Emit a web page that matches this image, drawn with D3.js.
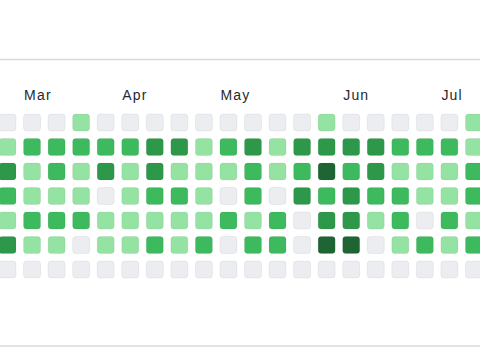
<!DOCTYPE html>
<html>
<head>
<meta charset="utf-8">
<script src="https://cdn.jsdelivr.net/npm/d3@7"></script>
<style>
  html, body { margin: 0; padding: 0; background: #ffffff; overflow: hidden; }
  svg { display: block; }
</style>
</head>
<body>
<svg id="chart" width="480" height="360"></svg>
<script>
// Week columns (index 0 is the partially visible week at the left edge)
const weeks = d3.range(20);
// Month labels and the week column where each starts
const monthLabels = ["Mar", "Apr", "May", "Jun", "Jul"];
const monthWeeks  = [1, 5, 9, 14, 18];
// Weekday rows
const days = ["Sun", "Mon", "Tue", "Wed", "Thu", "Fri", "Sat"];
// Contribution level (0-4) per week, one array per weekday
const sun = [0,0,0,1,0,0,0,0,0,0, 0,0,0,1,0,0,0,0,0,1];
const mon = [1,2,2,2,2,2,3,3,1,2, 3,1,3,3,3,3,2,2,2,1];
const tue = [3,1,2,1,3,1,3,1,1,1, 2,1,2,4,2,3,1,1,1,2];
const wed = [2,1,1,1,0,1,2,2,1,0, 2,0,3,2,3,2,2,1,1,2];
const thu = [1,2,2,2,1,1,1,1,1,2, 1,2,0,3,3,1,2,0,2,1];
const fri = [3,1,1,0,1,1,2,1,2,0, 2,2,0,4,4,0,1,2,1,2];
const sat = [0,0,0,0,0,0,0,0,0,0, 0,0,0,0,0,0,0,0,0,0];
const levelRows = [sun, mon, tue, wed, thu, fri, sat];
const levelColors = ["#ebedf0", "#94e3a3", "#3cba5d", "#2e984a", "#1f6534"];

const cells = [];
levelRows.forEach((row, d) => row.forEach((v, w) => cells.push({ week: w, day: days[d], level: v })));

const svg = d3.select("#chart");

const cell = 17;
const x = d3.scaleBand().domain(weeks).range([-1, -1 + 19 * 24.55 + cell]).paddingInner(1 - cell / 24.55).paddingOuter(0);
const y = d3.scaleBand().domain(days).range([114, 114 + 6 * 24.5 + cell]).paddingInner(1 - cell / 24.5).paddingOuter(0);
const color = d3.scaleOrdinal().domain([0, 1, 2, 3, 4]).range(levelColors);

// card borders
svg.append("line").attr("x1", 0).attr("x2", 480).attr("y1", 59.5).attr("y2", 59.5)
  .attr("stroke", "#d5dbe2").attr("stroke-width", 1.5);
svg.append("line").attr("x1", 0).attr("x2", 480).attr("y1", 346).attr("y2", 346)
  .attr("stroke", "#d5dbe2").attr("stroke-width", 1.5);

// month labels
svg.append("g").selectAll("text").data(monthLabels).join("text")
  .attr("x", (m, i) => x(monthWeeks[i]) + 0.5)
  .attr("y", 100)
  .attr("font-family", "'Liberation Sans', Arial, sans-serif")
  .attr("font-size", 14)
  .attr("letter-spacing", 1.2)
  .attr("fill", "#24292f")
  .text(d => d);

// cells
svg.append("g").selectAll("rect").data(cells).join("rect")
  .attr("x", d => x(d.week))
  .attr("y", d => y(d.day))
  .attr("width", x.bandwidth())
  .attr("height", y.bandwidth())
  .attr("rx", 3).attr("ry", 3)
  .attr("fill", d => color(d.level))
  .attr("stroke", "rgba(27,31,35,0.06)")
  .attr("stroke-width", 1);
</script>
</body>
</html>
